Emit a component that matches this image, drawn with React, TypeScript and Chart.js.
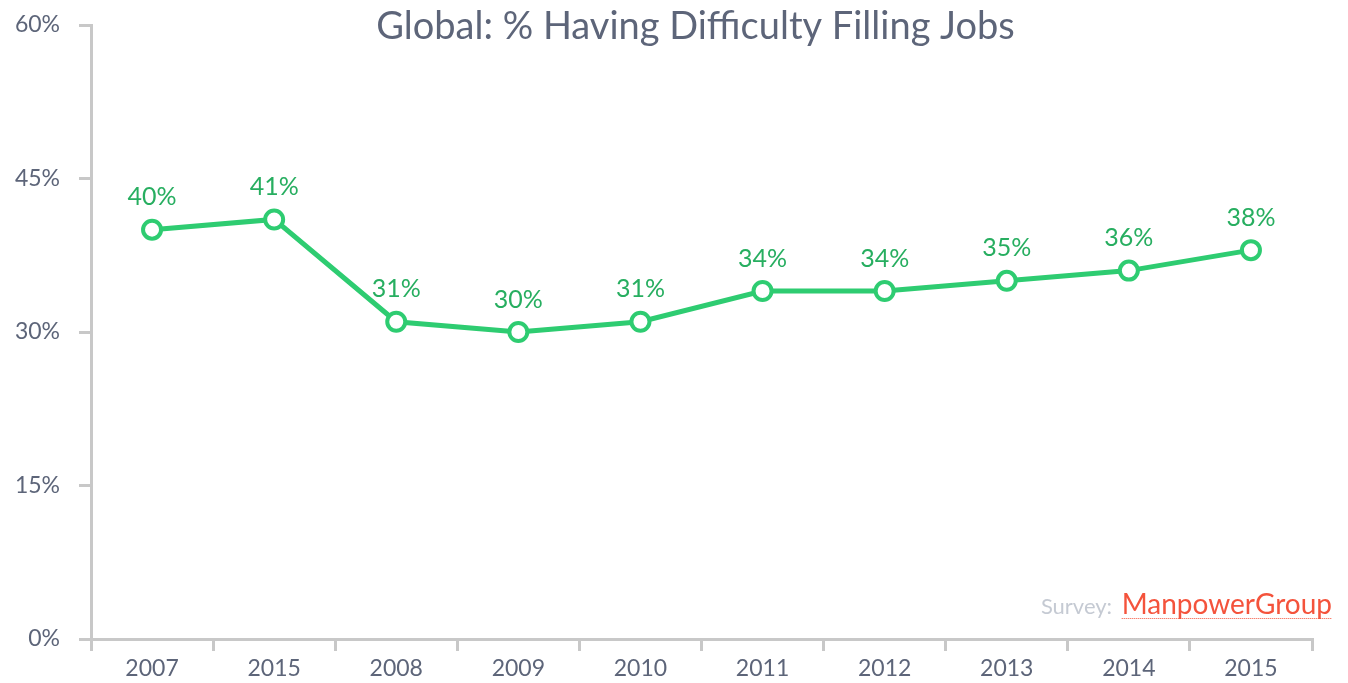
import React, { useEffect, useRef } from "react";
import { Chart, registerables } from "chart.js";

Chart.register(...registerables);

const categories = ["2007", "2015", "2008", "2009", "2010", "2011", "2012", "2013", "2014", "2015"];
const values = [40, 41, 31, 30, 31, 34, 34, 35, 36, 38];
const yTicks = [0, 15, 30, 45, 60];
const title = "Global: % Having Difficulty Filling Jobs";
const sourceLabel = "Survey: ";
const sourceName = "ManpowerGroup";

const FONT = "Lato, 'Open Sans', sans-serif";
const AXIS = "#c8c8c8";
const TEXT = "#5d6579";
const LINE = "#2ecc71";
const LABEL = "#27ae60";

const overlay = {
  id: "overlay",
  afterDatasetsDraw(chart: any) {
    const { ctx, chartArea } = chart;
    const meta = chart.getDatasetMeta(0);
    ctx.save();
    ctx.font = `25px ${FONT}`;
    ctx.fillStyle = LABEL;
    ctx.textAlign = "center";
    ctx.textBaseline = "bottom";
    meta.data.forEach((pt: any, i: number) => {
      ctx.fillText(values[i] + "%", pt.x, pt.y - 20);
    });
    // title
    ctx.font = `38px ${FONT}`;
    ctx.fillStyle = TEXT;
    ctx.textBaseline = "middle";
    ctx.textAlign = "center";
    ctx.fillText(title, (chartArea.left + chartArea.right) / 2 - 6, 27);
    // source
    const right = chartArea.right + 20;
    const base = chartArea.bottom - 25;
    ctx.textBaseline = "alphabetic";
    ctx.textAlign = "right";
    ctx.font = `28px ${FONT}`;
    ctx.fillStyle = "#f4533c";
    const w = ctx.measureText(sourceName).width;
    ctx.fillText(sourceName, right, base);
    ctx.strokeStyle = "#f4533c";
    ctx.lineWidth = 1;
    ctx.setLineDash([1, 1]);
    ctx.beginPath();
    ctx.moveTo(right - w, base + 4.5);
    ctx.lineTo(right, base + 4.5);
    ctx.stroke();
    ctx.setLineDash([]);
    ctx.font = `22px ${FONT}`;
    ctx.fillStyle = "#c5cad3";
    ctx.fillText(sourceLabel, right - w - 4, base);
    ctx.restore();
  },
};

export default function App() {
  const ref = useRef<HTMLCanvasElement | null>(null);
  useEffect(() => {
    document.body.style.margin = "0";
    const chart = new Chart(ref.current as HTMLCanvasElement, {
      type: "line",
      data: {
        labels: categories,
        datasets: [
          {
            data: values,
            borderColor: LINE,
            borderWidth: 5,
            pointRadius: 9,
            pointBorderWidth: 4,
            pointBackgroundColor: "#ffffff",
            pointBorderColor: LINE,
            tension: 0,
          },
        ],
      },
      options: {
        animation: false,
        responsive: false,
        layout: { padding: { top: 25, right: 36, left: 0, bottom: 0 } },
        plugins: { legend: { display: false }, tooltip: { enabled: false }, title: { display: false } },
        scales: {
          x: {
            offset: true,
            grid: { offset: true, drawOnChartArea: false, drawTicks: true, tickLength: 12, color: AXIS, lineWidth: 3 },
            border: { display: true, color: AXIS, width: 3 },
            ticks: { color: TEXT, font: { family: FONT, size: 23 }, padding: 4, maxRotation: 0, autoSkip: false },
            afterFit: (s: any) => { s.height = 44; s.paddingLeft = 0; s.paddingRight = 0; },
          },
          y: {
            min: 0,
            max: 60,
            afterBuildTicks: (s: any) => { s.ticks = yTicks.map((v) => ({ value: v })); },
            grid: { drawOnChartArea: false, drawTicks: true, tickLength: 12, color: AXIS, lineWidth: 3 },
            border: { display: true, color: AXIS, width: 3 },
            ticks: { color: TEXT, font: { family: FONT, size: 23 }, padding: 19, callback: (v: any) => v + "%" },
            afterFit: (s: any) => { s.width = 91; s.paddingTop = 0; s.paddingBottom = 0; },
          },
        },
      },
      plugins: [overlay],
    });
    return () => chart.destroy();
  }, []);
  return <canvas ref={ref} width={1348} height={683} style={{ display: "block" }} />;
}
